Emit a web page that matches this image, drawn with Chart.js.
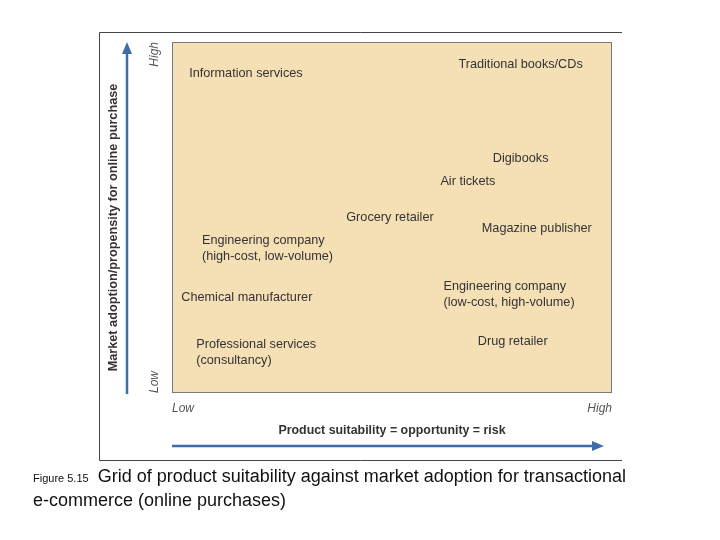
<!DOCTYPE html>
<html>
<head>
<meta charset="utf-8">
<script src="https://cdn.jsdelivr.net/npm/chart.js@4"></script>
<style>
  body { margin: 0; background: #fff; }
  #wrap { position: relative; width: 720px; height: 540px; }
  #grid { position: absolute; left: 0; top: 0; }
  .caption { position: absolute; left: 33px; top: 465px; width: 680px;
             font-family: "Liberation Sans", Arial, sans-serif;
             font-size: 18px; line-height: 22px; color: #111; }
  .caption .fig { font-size: 11px; margin-right: 9px; }
</style>
</head>
<body>
<div id="wrap">
  <canvas id="grid" width="720" height="540"></canvas>
  <div class="caption"><span class="fig">Figure 5.15</span>Grid of product suitability against market adoption for transactional<br>e-commerce (online purchases)</div>
</div>
<script>
// data (skala 0-10, posisi = tepi kiri teks)
const productNames = [
  'Information services',
  'Traditional books/CDs',
  'Digibooks',
  'Air tickets',
  'Grocery retailer',
  'Magazine publisher',
  'Engineering company\n(high-cost, low-volume)',
  'Chemical manufacturer',
  'Engineering company\n(low-cost, high-volume)',
  'Professional services\n(consultancy)',
  'Drug retailer'
];
const suitability = [0.39, 6.51, 7.29, 6.10, 3.96, 7.04, 0.68, 0.21, 6.17, 0.55, 6.95];
const adoption    = [9.09, 9.37, 6.67, 6.04, 5.01, 4.70, 4.13, 2.71, 2.81, 1.14, 1.48];
const xTickValues = [0, 10];
const xTickLabels = ['Low', 'High'];
const yTickValues = [0, 10];
const yTickLabels = ['Low', 'High'];
const yTitle = 'Market adoption/propensity for online purchase';
const xTitle = 'Product suitability = opportunity = risk';

const blue = '#3f6da8';
const fontFam = '"Liberation Sans", Arial, sans-serif';

// latar belakang, bingkai, panah
const framePlugin = {
  id: 'frame',
  beforeDraw(chart) {
    const ctx = chart.ctx;
    const a = chart.chartArea;
    ctx.save();
    ctx.fillStyle = '#f5e0b6';
    ctx.fillRect(a.left, a.top, a.right - a.left, a.bottom - a.top);
    // bingkai luar
    ctx.strokeStyle = '#444';
    ctx.lineWidth = 1;
    ctx.beginPath();
    ctx.moveTo(622, 32.5); ctx.lineTo(99.5, 32.5); ctx.lineTo(99.5, 460.5); ctx.lineTo(622, 460.5);
    ctx.stroke();
    ctx.restore();
  },
  afterDraw(chart) {
    const ctx = chart.ctx;
    const a = chart.chartArea;
    ctx.save();
    ctx.strokeStyle = '#7a7a7a';
    ctx.lineWidth = 1;
    ctx.strokeRect(a.left + 0.5, a.top + 0.5, a.right - a.left - 1, a.bottom - a.top - 1);

    // panah
    ctx.strokeStyle = blue;
    ctx.fillStyle = blue;
    ctx.lineWidth = 2.5;
    const ax = a.left - 45;
    ctx.beginPath(); ctx.moveTo(ax, a.bottom + 1); ctx.lineTo(ax, a.top + 8); ctx.stroke();
    ctx.beginPath(); ctx.moveTo(ax, a.top); ctx.lineTo(ax - 5, a.top + 12); ctx.lineTo(ax + 5, a.top + 12); ctx.closePath(); ctx.fill();
    const ay = a.bottom + 53;
    ctx.beginPath(); ctx.moveTo(a.left, ay); ctx.lineTo(a.right - 16, ay); ctx.stroke();
    ctx.beginPath(); ctx.moveTo(a.right - 8, ay); ctx.lineTo(a.right - 20, ay - 5); ctx.lineTo(a.right - 20, ay + 5); ctx.closePath(); ctx.fill();

    // label tick sumbu y (diputar)
    const ys = chart.scales.y;
    ctx.fillStyle = '#555';
    ctx.font = 'italic 12px ' + fontFam;
    ctx.textBaseline = 'middle';
    yTickValues.forEach((v, i) => {
      const py = ys.getPixelForValue(v);
      ctx.save();
      ctx.translate(a.left - 17, py);
      ctx.rotate(-Math.PI / 2);
      ctx.textAlign = i === 0 ? 'left' : 'right';
      ctx.fillText(yTickLabels[i], 0, 0);
      ctx.restore();
    });

    // judul sumbu y
    ctx.save();
    ctx.fillStyle = '#333';
    ctx.font = 'bold 12.7px ' + fontFam;
    ctx.textAlign = 'center';
    ctx.translate(a.left - 59, (a.top + a.bottom) / 2 + 10);
    ctx.rotate(-Math.PI / 2);
    ctx.fillText(yTitle, 0, 0);
    ctx.restore();
    ctx.restore();
  }
};

// nama produk pada titik
const labelPlugin = {
  id: 'productLabels',
  afterDatasetsDraw(chart) {
    const ctx = chart.ctx;
    const meta = chart.getDatasetMeta(0);
    ctx.save();
    ctx.fillStyle = '#333';
    ctx.font = '12.7px ' + fontFam;
    ctx.textAlign = 'left';
    ctx.textBaseline = 'middle';
    meta.data.forEach((pt, i) => {
      const lines = productNames[i].split('\n');
      const lh = 16;
      const y0 = pt.y - (lines.length - 1) * lh / 2;
      lines.forEach((t, j) => ctx.fillText(t, pt.x, y0 + j * lh));
    });
    ctx.restore();
  }
};

new Chart(document.getElementById('grid'), {
  type: 'scatter',
  data: {
    datasets: [{
      data: suitability.map((x, i) => ({ x: x, y: adoption[i] })),
      pointRadius: 0,
      pointHoverRadius: 0
    }]
  },
  options: {
    responsive: false,
    animation: false,
    layout: { padding: { left: 100, top: 42, right: 108, bottom: 87 } },
    plugins: { legend: { display: false }, tooltip: { enabled: false } },
    scales: {
      x: {
        type: 'linear', min: 0, max: 10,
        grid: { display: false, drawTicks: false },
        border: { display: false },
        afterBuildTicks: (s) => { s.ticks = xTickValues.map(v => ({ value: v })); },
        afterFit: (s) => { s.height = 60; },
        ticks: {
          align: 'inner',
          maxRotation: 0,
          padding: 8,
          color: '#555',
          font: { family: fontFam, size: 12, style: 'italic' },
          callback: (v) => xTickLabels[xTickValues.indexOf(v)]
        },
        title: {
          display: true,
          text: xTitle,
          color: '#333',
          font: { family: fontFam, size: 12.4, weight: 'bold' },
          padding: { top: 0, bottom: 15 }
        }
      },
      y: {
        type: 'linear', min: 0, max: 10,
        grid: { display: false, drawTicks: false },
        border: { display: false },
        ticks: { display: false },
        afterFit: (s) => { s.width = 72; },
        title: { display: false }
      }
    }
  },
  plugins: [framePlugin, labelPlugin]
});
</script>
</body>
</html>
